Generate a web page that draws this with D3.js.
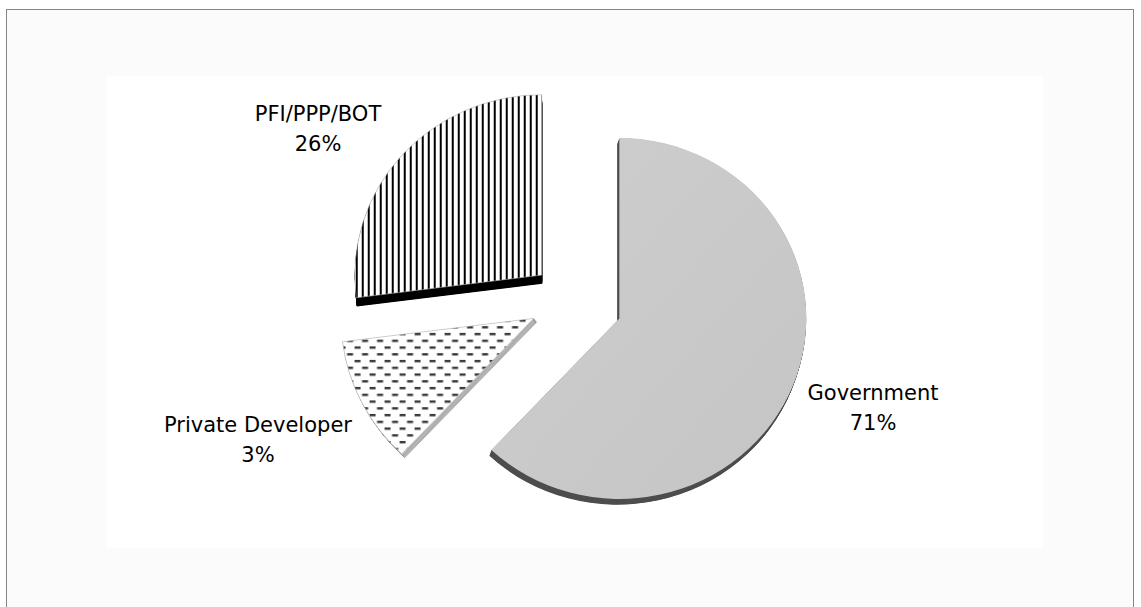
<!DOCTYPE html>
<html>
<head>
<meta charset="utf-8">
<script src="https://cdn.jsdelivr.net/npm/d3@7"></script>
<style>
body { margin: 0; background: #fff; }
svg { display: block; font-family: "DejaVu Sans", Verdana, sans-serif; }
</style>
</head>
<body>
<svg id="chart" width="1141" height="607"></svg>
<script>
// data
var categories = ["Government", "Private Developer", "PFI/PPP/BOT"];
var pctLabels = [71, 3, 26];          // printed percentages
var drawnShare = [62, 11, 27];        // slice sizes as they are drawn in the picture

// layout / style (not data)
var center = [571, 300], radius = 187, tilt = 0.965;
var explode = [52, 42, 39];
var radiusScale = [1, 1.03, 1];       // perspective makes the lower-left slice reach a bit further
var sideOffset = [[-2, 6], [3, 4], [0.5, 9]];
var labelPos = [[873, 400], [258, 432], [318, 121]];
var lineGap = 29.5;

var svg = d3.select("#chart");
var defs = svg.append("defs");

var grad = defs.append("linearGradient").attr("id", "govGrad")
	.attr("x1", "0").attr("y1", "0").attr("x2", "1").attr("y2", "1");
grad.append("stop").attr("offset", "0").attr("stop-color", "#cecece");
grad.append("stop").attr("offset", "1").attr("stop-color", "#c5c5c5");

var vl = defs.append("pattern").attr("id", "vlines")
	.attr("patternUnits", "userSpaceOnUse").attr("width", 6).attr("height", 10);
vl.append("rect").attr("width", 6).attr("height", 10).attr("fill", "#fff");
vl.append("rect").attr("x", 0).attr("width", 2).attr("height", 10).attr("fill", "#000");

var ds = defs.append("pattern").attr("id", "dashes")
	.attr("patternUnits", "userSpaceOnUse").attr("width", 15).attr("height", 14);
ds.append("rect").attr("width", 15).attr("height", 14).attr("fill", "#fff");
ds.append("rect").attr("x", 1).attr("y", 1).attr("width", 6).attr("height", 2.5).attr("fill", "#3a3a3a");
ds.append("rect").attr("x", 8.5).attr("y", 8).attr("width", 6).attr("height", 2.5).attr("fill", "#3a3a3a");

// chart frame and plot area
svg.append("rect").attr("x", 6.5).attr("y", 9.5).attr("width", 1127).attr("height", 620)
	.attr("fill", "#fbfbfb").attr("stroke", "#858585");
svg.append("rect").attr("x", 107).attr("y", 76).attr("width", 936).attr("height", 472)
	.attr("fill", "#fff");

var faceFill = ["url(#govGrad)", "url(#dashes)", "url(#vlines)"];
var sideFill = ["#4e4e4e", "#e6e6e6", "#000"];
var sideStroke = ["none", "#7a7a7a", "none"];

var pie = d3.pie().sort(null).value(function(d) { return d; });
var arcs = pie(drawnShare);
var arcFor = function(i) { return d3.arc().innerRadius(0).outerRadius(radius * radiusScale[i]); };

var g = svg.append("g")
	.attr("transform", "translate(" + center[0] + "," + center[1] + ") scale(1," + tilt + ")");

var slice = g.selectAll("g.slice").data(arcs).enter().append("g")
	.attr("class", "slice")
	.attr("transform", function(d, i) {
		var a = (d.startAngle + d.endAngle) / 2;
		return "translate(" + (Math.sin(a) * explode[i]) + "," + (-Math.cos(a) * explode[i]) + ")";
	});

// side walls: stacked copies of the slice shape, then the top face
slice.each(function(d, i) {
	var sel = d3.select(this);
	var arc = arcFor(i);
	var off = sideOffset[i];
	var n = Math.ceil(Math.max(Math.abs(off[0]), Math.abs(off[1])) * 2);
	for (var k = n; k >= 1; k--) {
		sel.append("path")
			.attr("d", arc(d))
			.attr("transform", "translate(" + (off[0] * k / n) + "," + (off[1] * k / n) + ")")
			.attr("fill", sideFill[i])
			.attr("stroke", sideStroke[i])
			.attr("stroke-width", 0.5);
	}
	sel.append("path")
		.attr("d", arc(d))
		.attr("fill", faceFill[i])
		.attr("stroke", i === 0 ? "none" : "#b5b5b5")
		.attr("stroke-width", 0.6);
});

// labels
var fmt = function(v) { return v + "%"; };
var lbl = svg.selectAll("text.lbl").data(categories).enter().append("text")
	.attr("class", "lbl")
	.attr("text-anchor", "middle")
	.attr("font-size", "21px")
	.attr("fill", "#000");
lbl.append("tspan")
	.attr("x", function(d, i) { return labelPos[i][0]; })
	.attr("y", function(d, i) { return labelPos[i][1]; })
	.text(function(d) { return d; });
lbl.append("tspan")
	.attr("x", function(d, i) { return labelPos[i][0]; })
	.attr("y", function(d, i) { return labelPos[i][1] + lineGap; })
	.text(function(d, i) { return fmt(pctLabels[i]); });
</script>
</body>
</html>
